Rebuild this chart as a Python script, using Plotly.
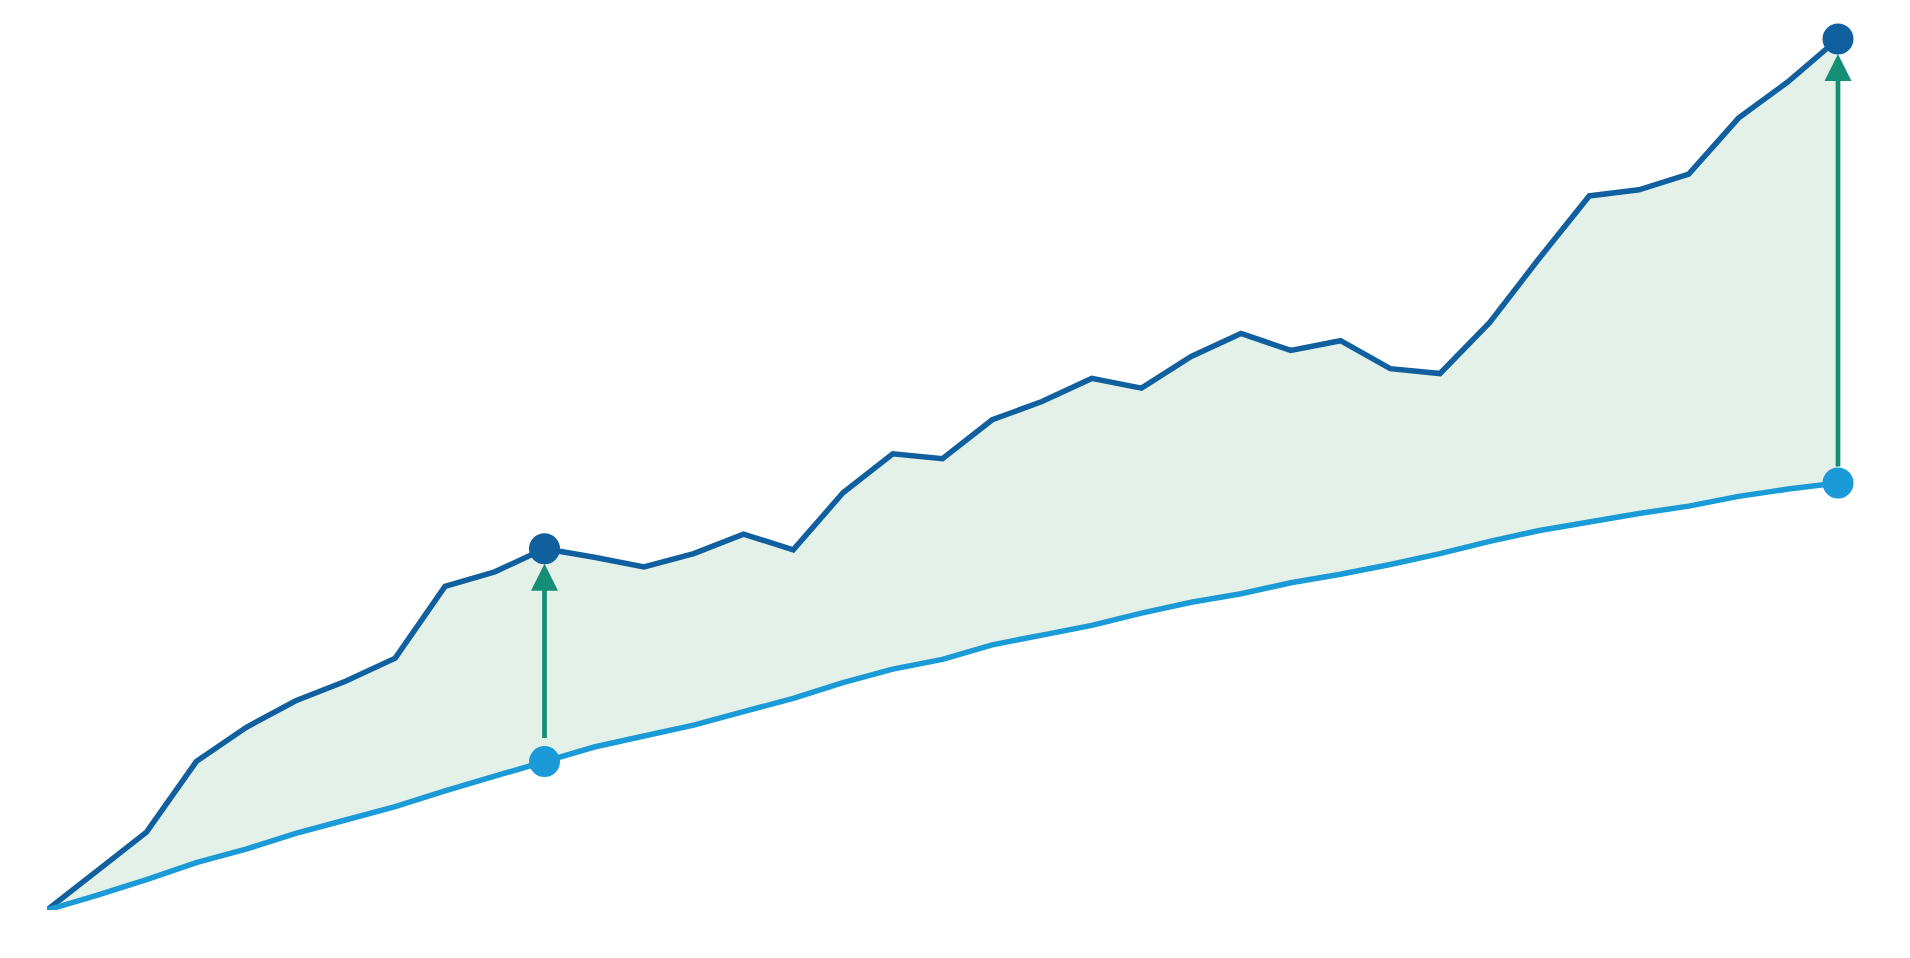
import plotly.graph_objects as go

# Index positions (no visible axis)
steps = list(range(37))
upper = [0, 32, 64, 122, 150, 172, 188, 207, 266, 278, 297, 290, 282, 293, 309, 296,
         343, 375, 371, 403, 418, 437, 429, 455, 474, 460, 468, 445, 441, 483, 536,
         587, 592, 605, 651, 681, 716]
lower = [0, 12, 25, 39, 50, 63, 74, 85, 98, 110, 122, 134, 143, 152, 163, 174, 187,
         198, 206, 218, 226, 234, 244, 253, 260, 269, 276, 284, 293, 303, 312, 319,
         326, 332, 340, 346, 351]
highlight = [10, 36]
tail_gap = [22, 15]

UP_C = "#1060A0"
LO_C = "#1B9AD8"
FILL_C = "#E3F1E8"
ARR_C = "#168E76"

fig = go.Figure()
fig.add_trace(go.Scatter(x=steps, y=lower, mode="lines",
                         line=dict(width=0, color=LO_C, simplify=False),
                         hoverinfo="skip", showlegend=False))
fig.add_trace(go.Scatter(x=steps, y=upper, mode="lines",
                         line=dict(width=0, color=UP_C, simplify=False),
                         fill="tonexty", fillcolor=FILL_C, hoverinfo="skip", showlegend=False))
fig.add_trace(go.Scatter(x=steps, y=upper, mode="lines",
                         line=dict(width=5.5, color=UP_C, simplify=False),
                         showlegend=False, cliponaxis=False))
fig.add_trace(go.Scatter(x=steps, y=lower, mode="lines",
                         line=dict(width=5.5, color=LO_C, simplify=False),
                         showlegend=False, cliponaxis=False))
fig.add_trace(go.Scatter(x=[steps[i] for i in highlight], y=[upper[i] for i in highlight],
                         mode="markers", marker=dict(size=31, color=UP_C),
                         showlegend=False, cliponaxis=False))
fig.add_trace(go.Scatter(x=[steps[i] for i in highlight], y=[lower[i] for i in highlight],
                         mode="markers", marker=dict(size=31, color=LO_C),
                         showlegend=False, cliponaxis=False))

for i, g in zip(highlight, tail_gap):
    fig.add_annotation(x=steps[i], y=upper[i], ax=steps[i], ay=lower[i],
                       xref="x", yref="y", axref="x", ayref="y",
                       text="", showarrow=True, arrowhead=2, arrowsize=1.15,
                       arrowwidth=4.7, arrowcolor=ARR_C, standoff=15, startstandoff=g)

fig.update_layout(
    width=1894, height=942,
    margin=dict(l=39, r=64, t=31, b=40),
    plot_bgcolor="white", paper_bgcolor="white",
    xaxis=dict(visible=False, range=[0, 36]),
    yaxis=dict(visible=False, range=[0, 716]),
)
fig.write_html("out.html")
